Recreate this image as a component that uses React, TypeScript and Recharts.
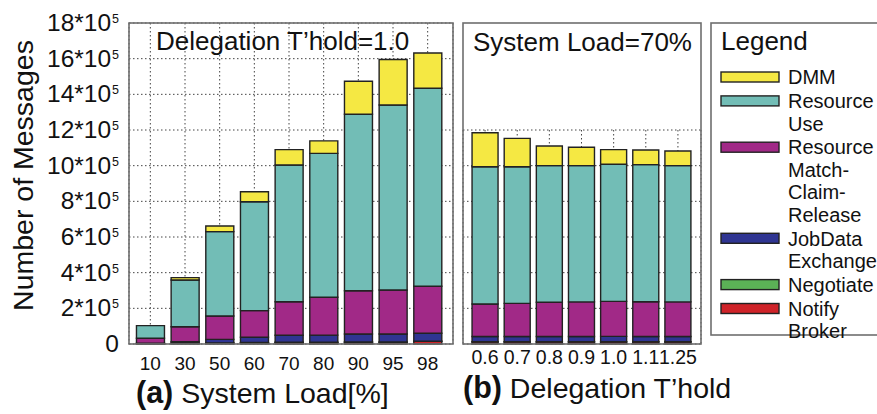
import React from "react";
import { BarChart, Bar, XAxis, YAxis, CartesianGrid } from "recharts";

// message counts per category, one array per series (bottom of stack first)
const LOADS = ["10", "30", "50", "60", "70", "80", "90", "95", "98"];
const LOAD_NOTIFY = [1000, 3000, 5000, 7000, 9000, 9000, 10000, 10000, 15000];
const LOAD_NEGOTIATE = [500, 1000, 1000, 1000, 1000, 1000, 1000, 1000, 1000];
const LOAD_JOBDATA = [3500, 9000, 20000, 30000, 39000, 40000, 45000, 45000, 44000];
const LOAD_MATCH = [27000, 84000, 131000, 149000, 188000, 212000, 243000, 247000, 264000];
const LOAD_USE = [71000, 262000, 473000, 611000, 767000, 807000, 989000, 1037000, 1110000];
const LOAD_DMM = [0, 13000, 32000, 56000, 86000, 70000, 185000, 255000, 198000];

const THOLDS = ["0.6", "0.7", "0.8", "0.9", "1.0", "1.1", "1.25"];
const THOLD_NOTIFY = [12000, 12000, 12000, 12000, 12000, 12000, 12000];
const THOLD_NEGOTIATE = [1000, 1000, 1000, 1000, 1000, 1000, 1000];
const THOLD_JOBDATA = [29000, 29000, 29000, 29000, 30000, 29000, 29000];
const THOLD_MATCH = [182000, 186000, 192000, 194000, 196000, 195000, 194000];
const THOLD_USE = [770000, 766000, 766000, 764000, 769000, 769000, 764000];
const THOLD_DMM = [191000, 159000, 110000, 103000, 82000, 82000, 82000];

const Y_TICKS_A = [0, 2e5, 4e5, 6e5, 8e5, 10e5, 12e5, 14e5, 16e5, 18e5];
const Y_TICKS_B = [0, 2e5, 4e5, 6e5, 8e5, 10e5, 12e5];

// stack order, bottom to top
const SERIES = [
  { key: "notify", lines: ["Notify", "Broker"] },
  { key: "negotiate", lines: ["Negotiate"] },
  { key: "jobdata", lines: ["JobData", "Exchange"] },
  { key: "match", lines: ["Resource", "Match-", "Claim-", "Release"] },
  { key: "use", lines: ["Resource", "Use"] },
  { key: "dmm", lines: ["DMM"] },
];

const COLORS: Record<string, string> = {
  notify: "#cf2329",
  negotiate: "#5bb256",
  jobdata: "#2f3592",
  match: "#a12987",
  use: "#72bdb6",
  dmm: "#f5e843",
};

const loadRows = LOADS.map((load, i) => ({
  cat: load,
  notify: LOAD_NOTIFY[i],
  negotiate: LOAD_NEGOTIATE[i],
  jobdata: LOAD_JOBDATA[i],
  match: LOAD_MATCH[i],
  use: LOAD_USE[i],
  dmm: LOAD_DMM[i],
}));

const tholdRows = THOLDS.map((t, i) => ({
  cat: t,
  notify: THOLD_NOTIFY[i],
  negotiate: THOLD_NEGOTIATE[i],
  jobdata: THOLD_JOBDATA[i],
  match: THOLD_MATCH[i],
  use: THOLD_USE[i],
  dmm: THOLD_DMM[i],
}));

const FONT = "'Liberation Sans', Arial, Helvetica, sans-serif";
const INK = "#111";
const FRAME = "#6e6e6e";

function PowTick({ x, y, payload }: any) {
  const v = payload.value / 1e5;
  return (
    <text x={x} y={y} dy={8} textAnchor="end" fontSize={24.5} fill={INK}>
      {v === 0 ? (
        "0"
      ) : (
        <>
          {`${v}*10`}
          <tspan dx={1} dy={-8} fontSize={12.5}>
            5
          </tspan>
        </>
      )}
    </text>
  );
}

function stackBars() {
  return SERIES.map((s) => (
    <Bar
      key={s.key}
      dataKey={s.key}
      stackId="msg"
      fill={COLORS[s.key]}
      stroke="#222"
      strokeWidth={1.4}
      isAnimationActive={false}
    />
  ));
}

export default function App() {
  // legend rows, top to bottom
  const legendItems = [...SERIES].reverse();
  let cy = 77;
  const legendLayout = legendItems.map((s) => {
    const y = cy;
    cy += s.lines.length * 22.4 + 1.5;
    return { ...s, y };
  });

  return (
    <div
      style={{
        position: "absolute",
        left: 0,
        top: 0,
        width: 877,
        height: 414,
        overflow: "hidden",
        background: "#fff",
        fontFamily: FONT,
        color: INK,
      }}
    >
      {/* (a) system load */}
      <div style={{ position: "absolute", left: 0, top: 0 }}>
        <BarChart
          width={460}
          height={414}
          data={loadRows}
          margin={{ top: 23, right: 7, bottom: 40, left: 0 }}
          barCategoryGap="10%"
        >
          <CartesianGrid stroke="#444" strokeDasharray="1.5 2.5" />
          <XAxis
            dataKey="cat"
            height={30}
            interval={0}
            axisLine={false}
            tickLine={false}
            tickSize={0}
            tickMargin={13}
            padding={{ left: 4, right: 8 }}
            tick={{ fontSize: 19, fill: INK }}
          />
          <YAxis
            width={129}
            domain={[0, 18e5]}
            ticks={Y_TICKS_A}
            interval={0}
            axisLine={false}
            tickLine={false}
            tickSize={0}
            tickMargin={10}
            tick={<PowTick />}
          />
          {stackBars()}
        </BarChart>
      </div>

      {/* (b) delegation threshold */}
      <div style={{ position: "absolute", left: 460, top: 0 }}>
        <BarChart
          width={244}
          height={414}
          data={tholdRows}
          margin={{ top: 130, right: 3, bottom: 40, left: 3 }}
          barCategoryGap="9.5%"
        >
          <CartesianGrid stroke="#444" strokeDasharray="1.5 2.5" />
          <XAxis
            dataKey="cat"
            height={30}
            interval={0}
            axisLine={false}
            tickLine={false}
            tickSize={0}
            tickMargin={6}
            padding={{ left: 6, right: 7 }}
            tick={{ fontSize: 19.5, fill: INK }}
          />
          <YAxis hide domain={[0, 12e5]} ticks={Y_TICKS_B} interval={0} />
          {stackBars()}
        </BarChart>
      </div>

      <svg
        width={877}
        height={414}
        style={{ position: "absolute", left: 0, top: 0, pointerEvents: "none" }}
        fontFamily={FONT}
        fill={INK}
      >
        <rect x={129} y={23} width={324} height={321} fill="none" stroke={FRAME} strokeWidth={1.6} />
        <rect x={463} y={23} width={238} height={321} fill="none" stroke={FRAME} strokeWidth={1.6} />

        <text x={156} y={50} fontSize={26}>
          Delegation T’hold=1.0
        </text>
        <text x={473} y={51} fontSize={26}>
          System Load=70%
        </text>

        <text x={32.5} y={175.5} fontSize={28.5} textAnchor="middle" transform="rotate(-90 32.5 175.5)">
          Number of Messages
        </text>

        <text x={136} y={403}>
          <tspan fontSize={30.5} fontWeight="bold">(a)</tspan>
          <tspan fontSize={28.5}> System Load[%]</tspan>
        </text>
        <text x={463} y={398}>
          <tspan fontSize={30.5} fontWeight="bold">(b)</tspan>
          <tspan fontSize={28.5}> Delegation T’hold</tspan>
        </text>

        {/* legend */}
        <rect x={711} y={23} width={200} height={312} fill="#fff" stroke={FRAME} strokeWidth={1.6} />
        <text x={721} y={50} fontSize={26}>
          Legend
        </text>
        {legendLayout.map((s) => (
          <g key={s.key}>
            <rect x={721} y={s.y - 5} width={58} height={10} fill={COLORS[s.key]} stroke="#222" strokeWidth={1.4} />
            {s.lines.map((ln, j) => (
              <text key={j} x={788} y={s.y + 7.2 + j * 22.4} fontSize={20}>
                {ln}
              </text>
            ))}
          </g>
        ))}
      </svg>
    </div>
  );
}
